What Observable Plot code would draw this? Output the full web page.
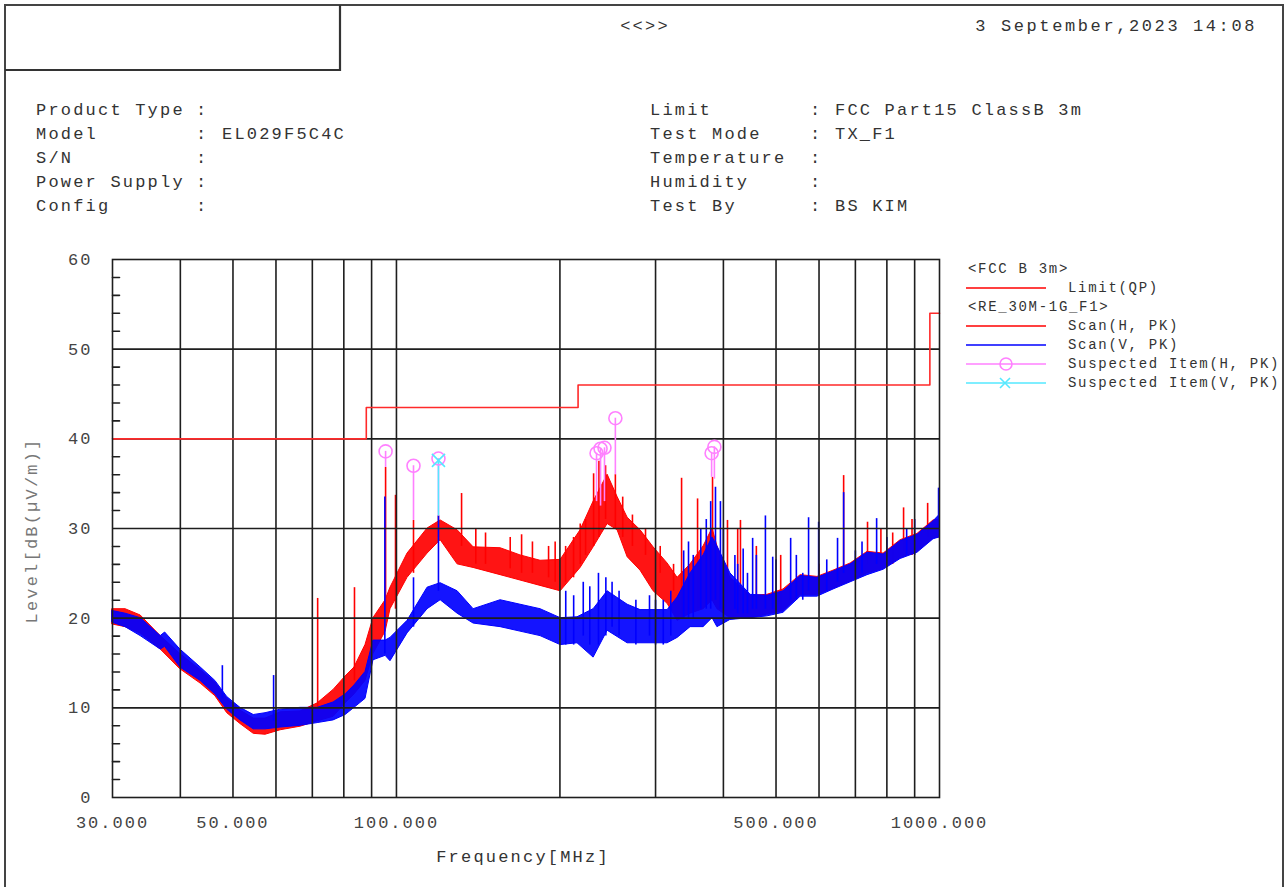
<!DOCTYPE html>
<html><head><meta charset="utf-8">
<script src="https://cdn.jsdelivr.net/npm/d3@7"></script>
<script src="https://cdn.jsdelivr.net/npm/@observablehq/plot@0.6"></script>
<style>
html,body{margin:0;padding:0;background:#fff;width:1288px;height:887px;overflow:hidden;}
#wrap{position:relative;width:1288px;height:887px;background:#fff;}
#chart{position:absolute;left:0;top:0;}
#deco{position:absolute;left:0;top:0;pointer-events:none;}
.t{position:absolute;font-family:"Liberation Mono","Courier New",monospace;color:#333;white-space:pre;line-height:1;}
.hd{font-size:17px;letter-spacing:2.2px;}
.lg{font-size:14px;letter-spacing:1.7px;}
</style></head>
<body><div id="wrap"><div id="chart"></div><svg id="deco" width="1288" height="887"></svg></div>
<script>
// ---- Axis ticks ----
const xTicks = [30, 50, 100, 500, 1000];
const xGrid = [40, 50, 60, 70, 80, 90, 100, 200, 300, 400, 500, 600, 700, 800, 900];
const yTicks = [0, 10, 20, 30, 40, 50, 60];
const yGrid = [10, 20, 30, 40, 50];
const yMinor = [2,4,6,8,12,14,16,18,22,24,26,28,32,34,36,38,42,44,46,48,52,54,56,58];

// ---- Limit FCC B 3m (QP) ----
const limitFreq = [30, 88, 216, 960, 1000];
const limitLevel = [40, 43.5, 46, 54, 54];

// ---- Scan (H, PK): envelope of the trace ----
const hFreq = [30,31.7,33.8,36.8,40,43.6,46.4,48.8,51.6,54.6,57.4,61.2,66.6,71.6,76.6,80.6,83.7,87.7,90.7,95.5,97.5,104.8,114.1,120.6,129.6,138.7,155.5,169.2,184.2,200.6,218.3,230.7,244.8,255.4,266.5,281.5,297.5,315.7,329.4,348,367.7,382,390,412,449,482,516,555,596,638,686,737,789,848,911,975,1000];
const hLow  = [19.3,19.0,18.3,16.5,14.3,12.7,11.3,9.4,8.2,7.1,7.0,7.5,7.9,8.5,9.0,10.5,11.5,13.0,16.0,18.5,21.0,24.5,27.2,28.7,26.0,25.6,24.8,24.2,23.6,23.0,25.6,27.9,30.5,29.8,26.8,25.3,23.0,21.6,19.7,20.5,21.0,22.0,21.0,20.0,20.0,20.4,20.8,22.6,22.6,23.3,24.1,25.0,25.5,26.7,27.4,28.9,29.0];
const hHigh = [21.0,21.0,20.3,18.0,16.0,14.2,12.8,11.0,9.7,8.8,8.8,9.5,9.6,10.5,12.0,13.5,14.5,17.0,20.0,22.0,23.4,27.2,30.0,30.9,29.8,27.9,27.8,27.0,26.4,26.5,29.8,33.0,36.0,33.5,31.2,29.8,27.9,26.1,24.5,26.0,28.0,30.0,28.0,24.5,22.5,22.6,23.2,24.8,24.6,25.3,26.1,27.4,27.2,28.7,29.4,30.9,31.0];
// spikes of the H trace
const hSpikeFreq = [71.6,83.7,95.5,99.6,107.5,119.5,131.8,140,145.9,162,170,178,190.6,196,204.9,211.9,218,223,230.7,236,242.7,253,261,272,287.5,306,323.8,335,358.5,382,407,425,430,460,510,600,666,737,780,820,858.7,890,951];
const hSpikeBase = [9.5,13,20,21,25,29,28,26,26,25.5,25,25,24.5,24,24,24.5,26,27,28,29,31,30,29,28,27,25,23,20,21,22,22,21,21,21,21,23,25,26,26,26,27.5,27,29];
const hSpikePeak = [22.2,23.4,36.8,33.7,30.9,31.4,33.9,30,29.5,29,29.3,28.5,28,28.5,28,29,30.5,31,36.1,37.5,37,36,33.5,31.5,30,28,26,35.6,33.3,35.7,30.9,30,30.9,28,27,26,35.9,30.7,30,29.5,32.3,31,32.8];

// ---- Scan (V, PK): envelope of the trace ----
const vFreq = [30,31.7,33.8,36.8,37.5,40,43.6,46.4,48.8,51.6,54.6,57.4,61.2,66.6,71.6,76.6,80.6,83.7,87.7,90.7,95.5,97.5,104.8,114.1,120.6,129.6,138.7,155.5,169.2,184.2,200.6,215.5,230.7,244.8,266.5,281.5,315.7,329.4,348,367.7,382,390,412,449,482,516,555,596,638,686,737,789,848,911,975,1000];
const vLow  = [19.5,19.0,18.0,16.5,16.8,14.5,13.0,11.5,9.8,8.6,7.6,7.6,7.8,8.0,8.3,8.6,9.2,10.0,11.0,15.3,15.8,15.2,18.3,21.0,22.0,20.5,19.4,19.0,18.5,18.0,17.0,17.2,15.6,18.6,17.2,17.2,17.2,17.8,19.0,19.0,20.0,19.0,19.8,20.0,20.2,20.6,22.4,22.4,23.2,24.0,24.8,25.4,26.6,27.3,28.8,29.0];
const vHigh = [20.8,20.5,20.0,18.0,18.4,16.5,14.5,13.0,11.2,10.0,9.2,9.4,9.8,10.0,10.0,10.6,11.5,12.5,14.0,17.5,17.5,17.8,19.7,23.4,23.9,23.0,21.0,22.0,21.5,21.0,20.0,20.1,21.0,23.0,21.5,20.9,20.9,22.3,25.0,27.0,29.0,28.0,25.0,22.6,22.5,23.0,24.7,24.5,25.2,26.0,27.3,27.1,28.6,29.3,30.8,31.5];
const vSpikeFreq = [47.8,59.4,95.2,107.5,119.5,205,212,220.8,227,235.5,243,249.5,257,276,292.4,300,310,320,338,345,352,363.4,372,379,386.8,395,400,420,425,435,443,452.8,460,478,493,500,532,545,560,574,599,620,649,666,700,720,766,800,870,900,996];
const vSpikeBase = [11,8.5,16,19,23,17,17,18,17,17,18,19,18,17,18,17,17,18,20,20,20,21,21,21,22,21,21,21,20.5,20.5,20.5,21,21,21,21,21,22,22,22,23,23,23,24,25,25,25,26,26,27,27,30];
const vSpikePeak = [14.7,13.6,33.5,24.5,31.4,23,22.5,24,23.5,25,24.5,24,23,22,22.5,22,22,23,27.5,28.5,27,30,31,33,34.6,33,30,27,26,27.7,25,28.9,27,31.4,26.8,26.5,28.9,27,25,31.2,30.7,26.5,28.9,34,27.5,28.5,31.1,29,30,31,34.5];

// ---- Suspected items ----
const suspHFreq  = [95.5,107.5,119.5,233.6,237.6,241.6,253.0,380.5,385.0];
const suspHLevel = [38.6,37.0,37.8,38.4,38.9,39.0,42.3,38.4,39.1];
const suspHTrace = [36.8,30.9,31.4,33.0,32.5,33.0,36.0,35.7,35.5];
const suspVFreq  = [119.5];
const suspVLevel = [37.6];
const suspVTrace = [31.4];

// ---- colours ----
const RED = "#ff0000", BLUE = "#0000ff", PINK = "#ff80ff", CYAN = "#55e8ff", GRID = "#1e1e1e";

const zip = (f, a, b) => f.map((x, i) => ({f: x, lo: a[i], hi: b[i]}));
const H = zip(hFreq, hLow, hHigh), HS = zip(hSpikeFreq, hSpikeBase, hSpikePeak);
const V = zip(vFreq, vLow, vHigh), VS = zip(vSpikeFreq, vSpikeBase, vSpikePeak);
const SH = zip(suspHFreq, suspHTrace, suspHLevel), SV = zip(suspVFreq, suspVTrace, suspVLevel);
const LIM = limitFreq.map((f, i) => ({f, v: limitLevel[i]}));
const tickShape = {draw(ctx, l) { ctx.moveTo(0, 0); ctx.lineTo(0, -l); }};

const chart = Plot.plot({
  width: 1288, height: 887,
  marginLeft: 112, marginRight: 349, marginTop: 259, marginBottom: 90,
  style: "font-family:'Liberation Mono',monospace;font-size:17px;letter-spacing:2px;color:#444;background:transparent;overflow:visible;",
  x: {type: "log", domain: [30, 1000]},
  y: {domain: [0, 60]},
  marks: [
    Plot.areaY(H, {x: "f", y1: "lo", y2: "hi", fill: RED, fillOpacity: 0.92, stroke: RED, strokeWidth: 1}),
    Plot.ruleX(HS, {x: "f", y1: "lo", y2: "hi", stroke: RED, strokeWidth: 1.6}),
    Plot.areaY(V, {x: "f", y1: "lo", y2: "hi", fill: BLUE, fillOpacity: 0.92, stroke: BLUE, strokeWidth: 1}),
    Plot.ruleX(VS, {x: "f", y1: "lo", y2: "hi", stroke: BLUE, strokeWidth: 1.6}),
    Plot.ruleX(xGrid, {stroke: GRID, strokeWidth: 1.6}),
    Plot.ruleY(yGrid, {stroke: GRID, strokeWidth: 1.6}),
    Plot.vector(yMinor, {y: d => d, frameAnchor: "left", length: 7, rotate: 90, anchor: "start", stroke: GRID, strokeWidth: 1.6, shape: tickShape}),
    Plot.line(LIM, {x: "f", y: "v", curve: "step-after", stroke: "#ff2a2a", strokeWidth: 1.6}),
    Plot.ruleX(SH, {x: "f", y1: "lo", y2: "hi", stroke: PINK, strokeWidth: 1.6}),
    Plot.ruleX(SV, {x: "f", y1: "lo", y2: "hi", stroke: CYAN, strokeWidth: 1.6}),
    Plot.dot(SH, {x: "f", y: "hi", r: 6.5, stroke: PINK, strokeWidth: 1.6, fill: "none"}),
    Plot.dot(SV, {x: "f", y: "hi", r: 6, symbol: "times", stroke: CYAN, strokeWidth: 1.6}),
    Plot.frame({stroke: GRID, strokeWidth: 1.6}),
    Plot.axisX({ticks: xTicks, tickFormat: d3.format(".3f"), tickSize: 0, tickPadding: 18, label: null, fill: "#444"}),
    Plot.axisY({ticks: yTicks, tickSize: 0, tickPadding: 20, label: null, fill: "#444"})
  ]
});
document.getElementById("chart").appendChild(chart);

// ---- header, titles, legend (text) ----
const wrap = document.getElementById("wrap");
function txt(s, x, yc, cls, opts = {}) {
  const d = document.createElement("div");
  d.className = "t " + cls;
  d.textContent = s;
  const fs = cls === "hd" ? 17 : 14;
  d.style.top = (yc - fs / 2) + "px";
  if (opts.anchor === "end") { d.style.right = (1288 - x) + "px"; }
  else if (opts.anchor === "middle") { d.style.left = x + "px"; d.style.transform = "translateX(-50%)"; }
  else d.style.left = x + "px";
  if (opts.color) d.style.color = opts.color;
  if (opts.ls) d.style.letterSpacing = opts.ls;
  wrap.appendChild(d);
  return d;
}
txt("<<>>", 645, 26, "hd", {anchor: "middle"});
txt("3 September,2023 14:08", 1257, 26, "hd", {anchor: "end", ls: "2.6px"});
const leftRows = [["Product Type", ""], ["Model", "EL029F5C4C"], ["S/N", ""], ["Power Supply", ""], ["Config", ""]];
const rightRows = [["Limit", "FCC Part15 ClassB 3m"], ["Test Mode", "TX_F1"], ["Temperature", ""], ["Humidity", ""], ["Test By", "BS KIM"]];
leftRows.forEach((r, i) => {
  const y = 110 + i * 24;
  txt(r[0], 36, y, "hd"); txt(":", 196, y, "hd"); if (r[1]) txt(r[1], 222, y, "hd");
});
rightRows.forEach((r, i) => {
  const y = 110 + i * 24;
  txt(r[0], 650, y, "hd"); txt(":", 810, y, "hd"); if (r[1]) txt(r[1], 835, y, "hd");
});
txt("Frequency[MHz]", 523, 857, "hd", {anchor: "middle"});
const yl = txt("Level[dB(\u00b5V/m)]", 32, 530, "hd", {color: "#777"});
yl.style.left = "32px"; yl.style.transform = "translate(-50%,0) rotate(-90deg)"; yl.style.transformOrigin = "50% 50%";

const legendRows = [
  {label: "<FCC B 3m>", head: true},
  {label: "Limit(QP)", color: RED},
  {label: "<RE_30M-1G_F1>", head: true},
  {label: "Scan(H, PK)", color: RED},
  {label: "Scan(V, PK)", color: BLUE},
  {label: "Suspected Item(H, PK)", color: PINK, sym: "circle"},
  {label: "Suspected Item(V, PK)", color: CYAN, sym: "times"}
];
const deco = d3.select("#deco");
deco.append("path").attr("d", "M5,887V5H1283V887").attr("fill", "none").attr("stroke", "#444").attr("stroke-width", 2);
deco.append("path").attr("d", "M340,5V70H5").attr("fill", "none").attr("stroke", "#333").attr("stroke-width", 2.2);
legendRows.forEach((r, i) => {
  const y = 269 + i * 19;
  if (r.head) { txt(r.label, 968, y, "lg"); return; }
  txt(r.label, 1068, y, "lg");
  deco.append("line").attr("x1", 966).attr("x2", 1046).attr("y1", y).attr("y2", y).attr("stroke", r.color).attr("stroke-width", 1.6);
  if (r.sym === "circle") deco.append("circle").attr("cx", 1006).attr("cy", y).attr("r", 6).attr("fill", "none").attr("stroke", r.color).attr("stroke-width", 1.6);
  if (r.sym === "times") deco.append("path").attr("d", `M1000,${y-5}L1010,${y+5}M1000,${y+5}L1010,${y-5}`).attr("stroke", r.color).attr("stroke-width", 1.6);
});
</script></body></html>
